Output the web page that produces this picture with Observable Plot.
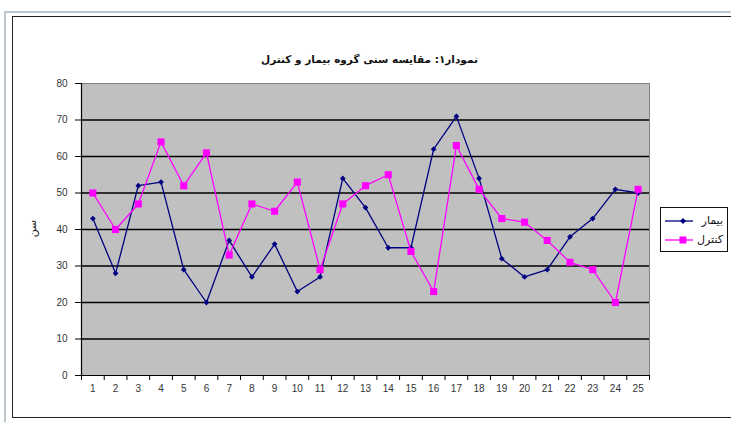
<!DOCTYPE html>
<html>
<head>
<meta charset="utf-8">
<script src="https://cdn.jsdelivr.net/npm/d3@7"></script>
<script src="https://cdn.jsdelivr.net/npm/@observablehq/plot@0.6"></script>
<style>
  html, body { margin: 0; padding: 0; background: #fff; }
  #wrap { position: relative; width: 731px; height: 422px; overflow: hidden; }
  #outer { position: absolute; left: 4px; top: 11px; width: 760px; height: 420px;
           border-left: 2px solid #bcc6cd; border-top: 2px solid #bcc6cd; }
  #inner { position: absolute; left: 12px; top: 16px; width: 760px; height: 400px;
           border-left: 1px solid #222; border-top: 1px solid #222; border-bottom: 1px solid #222; }
  #chart { position: absolute; left: 0; top: 0; }
  #title { position: absolute; left: 4px; width: 731px; top: 53px; text-align: center;
           font: bold 10.5px "DejaVu Sans", sans-serif; color: #111; direction: rtl; }
  #ylab { position: absolute; left: 24px; top: 222px; transform: rotate(-90deg);
          font: 11px "DejaVu Sans", sans-serif; color: #222; }
  #legend { position: absolute; left: 660px; top: 207px; width: 66px; height: 43px;
            border: 1px solid #111; background: #fff; }
  .lrow { position: absolute; left: 0; width: 66px; height: 18px; }
  .lrow svg { position: absolute; left: 4px; top: 3px; }
  .lrow span { position: absolute; right: 4px; top: 2px; font: 11px "DejaVu Sans", sans-serif; color: #111; direction: rtl; }
</style>
</head>
<body>
<div id="wrap">
  <div id="outer"></div>
  <div id="inner"></div>
  <div id="chart"></div>
  <div id="title">نمودار۱: مقایسه سنی گروه بیمار و کنترل</div>
  <div id="ylab">سن</div>
  <div id="legend">
    <div class="lrow" style="top:4px">
      <svg width="30" height="12"><line x1="0" y1="6" x2="28" y2="6" stroke="#000080" stroke-width="1.3"/><path d="M18,3 L21,6 L18,9 L15,6 Z" fill="#000080"/></svg>
      <span>بیمار</span>
    </div>
    <div class="lrow" style="top:23px">
      <svg width="30" height="12"><line x1="0" y1="6" x2="28" y2="6" stroke="#ff00ff" stroke-width="1.3"/><rect x="14.5" y="2.5" width="7" height="7" fill="#ff00ff"/></svg>
      <span>کنترل</span>
    </div>
  </div>
</div>
<script>
const categories = d3.range(1, 26);
const patientValues = [43, 28, 52, 53, 29, 20, 37, 27, 36, 23, 27, 54, 46, 35, 35, 62, 71, 54, 32, 27, 29, 38, 43, 51, 50];
const controlValues = [50, 40, 47, 64, 52, 61, 33, 47, 45, 53, 29, 47, 52, 55, 34, 23, 63, 51, 43, 42, 37, 31, 29, 20, 51];
const yTicks = [0, 10, 20, 30, 40, 50, 60, 70, 80];
const gridValues = [10, 20, 30, 40, 50, 60, 70];
const boundaries = d3.range(0.5, 26, 1);

const patients = categories.map((c, i) => ({c, v: patientValues[i]}));
const control = categories.map((c, i) => ({c, v: controlValues[i]}));

const chart = Plot.plot({
  width: 731,
  height: 422,
  marginLeft: 81,
  marginRight: 82,
  marginTop: 83,
  marginBottom: 47,
  style: {fontFamily: "'Liberation Sans', Arial, sans-serif", fontSize: "10px", background: "transparent", color: "#222"},
  x: {domain: [0.5, 25.5], axis: null, label: null},
  y: {domain: [0, 80], axis: null, label: null},
  marks: [
    Plot.frame({fill: "#c0c0c0", stroke: "#808080"}),
    Plot.ruleY(gridValues, {stroke: "#000", strokeWidth: 1.4}),
    Plot.ruleY([0], {stroke: "#000", strokeWidth: 1.2}),
    Plot.ruleX([0.5], {stroke: "#000", strokeWidth: 1.2}),
    Plot.axisY({ticks: yTicks, tickSize: 6, tickPadding: 8, tickFormat: d => d, stroke: "#000", fill: "#333", label: null}),
    Plot.axisX({ticks: boundaries, tickSize: 5, tickFormat: () => "", stroke: "#000", label: null}),
    Plot.axisX({ticks: categories, tickSize: 0, tickPadding: 9, tickFormat: d => d, fill: "#333", label: null}),
    Plot.line(patients, {x: "c", y: "v", stroke: "#000080", strokeWidth: 1.3}),
    Plot.dot(patients, {x: "c", y: "v", symbol: "diamond2", r: 2.6, fill: "#000080"}),
    Plot.line(control, {x: "c", y: "v", stroke: "#ff00ff", strokeWidth: 1.3}),
    Plot.dot(control, {x: "c", y: "v", symbol: "square", r: 4, fill: "#ff00ff"})
  ]
});
document.getElementById("chart").appendChild(chart);
</script>
</body>
</html>
